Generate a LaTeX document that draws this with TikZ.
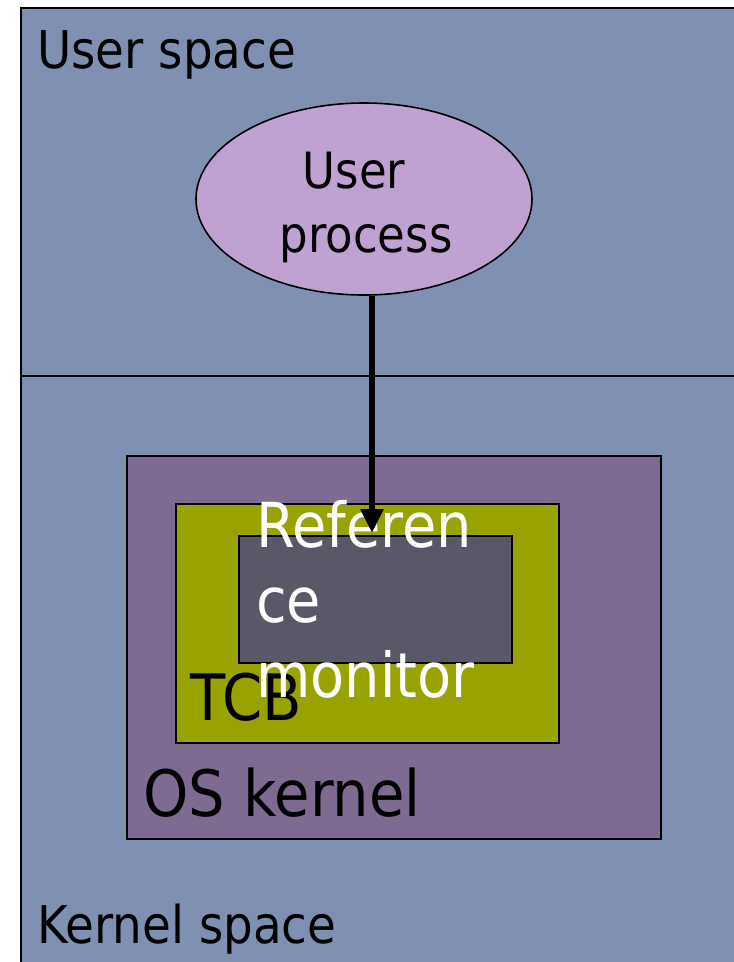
\documentclass[tikz,border=0pt]{standalone}
\usepackage{fontspec}
\setmainfont{DejaVu Sans}[FakeStretch=0.9]
\usetikzlibrary{shapes.geometric,arrows.meta}
\definecolor{spacebg}{HTML}{8090B2}
\definecolor{procfill}{HTML}{C0A2D2}
\definecolor{kernelfill}{HTML}{7F6B91}
\definecolor{tcbfill}{HTML}{99A300}
\definecolor{rmfill}{HTML}{595868}
\tikzset{
  region/.style={draw=black, line width=2.2pt, fill=spacebg, rectangle, inner sep=0pt, anchor=north west},
  layer/.style={draw=black, line width=2.2pt, rectangle, inner sep=0pt, anchor=north west},
  lbl/.style={inner sep=0pt, anchor=base west},
  biglbl/.style={lbl, font=\fontsize{64}{64}\selectfont},
  spacelbl/.style={lbl, font=\fontsize{52}{52}\selectfont},
  proclbl/.style={inner sep=0pt, anchor=base, font=\fontsize{50}{50}\selectfont},
  flow/.style={line width=6pt, -{Triangle[width=22pt,length=24pt]}}
}
\begin{document}
\begin{tikzpicture}[x=1pt,y=-1pt]
\useasboundingbox (0,0) rectangle (734,962);
\clip (0,0) rectangle (734,962);
\fill[white] (0,0) rectangle (734,962);

% address spaces
\node[region, minimum width=730pt, minimum height=368pt] (userspace) at (20,7) {};
\node[region, minimum width=730pt, minimum height=605pt] (kernelspace) at (20,375) {};
\node[spacelbl] (userlbl) at (37,68) {User space};
\node[spacelbl] (kernellbl) at (37,943) {Kernel space};

% user process
\node[ellipse, draw=black, line width=1.6pt, fill=procfill, minimum width=336pt, minimum height=192pt, inner sep=0pt] (proc) at (364,199) {};
\node[proclbl] (proctop) at (354,188) {User};
\node[proclbl] (procbot) at (366,252) {process};

% nested protection layers
\node[layer, fill=kernelfill, minimum width=534pt, minimum height=383pt] (oskernel) at (126,455) {};
\node[layer, fill=tcbfill, minimum width=383pt, minimum height=239pt] (tcb) at (175,503) {};
\node[layer, fill=rmfill, minimum width=273pt, minimum height=127pt] (rm) at (238,535) {};

\node[biglbl] (tcblbl) at (190,720) {TCB};
\node[biglbl] (oslbl) at (143,816) {OS kernel};
% base anchor of a multi-line node sits on its last line
\node[lbl, align=left, text=white, font=\fontsize{62}{75}\selectfont] (rmlbl) at (256,697) {Referen\\ce\\monitor};

% call from the process into the reference monitor
\coordinate (tip) at (372,533);
\draw[flow] (proc.south -| tip) -- (tip);
\end{tikzpicture}
\end{document}
